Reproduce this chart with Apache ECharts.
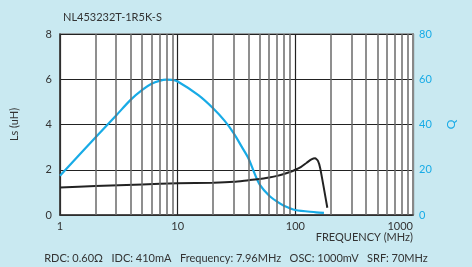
<!DOCTYPE html>
<html>
<head>
<meta charset="utf-8">
<script src="https://cdn.jsdelivr.net/npm/echarts@6/dist/echarts.min.js"></script>
<style>
  html, body { margin: 0; padding: 0; background: #c9e9f1; }
  #chart { width: 472px; height: 267px; }
</style>
</head>
<body>
<div id="chart"></div>
<script>
// inductance Ls (uH) vs frequency (MHz)
var lsFreq = [1, 2, 5, 10, 20, 30, 40, 50, 60, 70, 80, 90, 100, 112, 125, 137, 147, 156, 163, 187];
var lsVals = [1.22, 1.28, 1.35, 1.40, 1.43, 1.47, 1.54, 1.59, 1.66, 1.73, 1.81, 1.90, 2.00, 2.13, 2.31, 2.46, 2.51, 2.38, 2.05, 0.32];

// Q vs frequency (MHz)
var qFreq = [1, 2, 3, 4, 5, 6, 7, 8, 9, 10, 15, 20, 25, 30, 35, 40, 45, 50, 60, 70, 80, 100, 150, 175];
var qVals = [17.4, 34.3, 44.0, 51.0, 55.3, 58.0, 59.3, 59.8, 59.7, 59.0, 53.0, 47.2, 41.7, 36.1, 30.2, 25.0, 18.4, 13.3, 8.5, 5.9, 4.1, 2.2, 1.2, 0.9];

// minor log gridlines between decades
var minorTicks = [2, 3, 4, 5, 6, 7, 8, 9, 20, 30, 40, 50, 60, 70, 80, 90, 200, 300, 400, 500, 600, 700, 800, 900];

var footText = 'RDC: 0.60\u03A9   IDC: 410mA   Frequency: 7.96MHz   OSC: 1000mV   SRF: 70MHz';

function pairs(xs, ys) {
    var d = [];
    for (var i = 0; i < xs.length; i++) d.push([xs[i], ys[i]]);
    return d;
}

var font = 'Lato';
var blue = '#18abe6';

var chart = echarts.init(document.getElementById('chart'));
chart.setOption({
    backgroundColor: '#c9e9f1',
    animation: false,
    textStyle: { fontFamily: font },
    title: {
        text: 'NL453232T-1R5K-S',
        left: 58, top: 7,
        textStyle: { fontFamily: font, fontSize: 11, fontWeight: 'normal', color: '#333' }
    },
    grid: {
        left: 60, right: 59, top: 34, bottom: 52,
        show: true, backgroundColor: '#fff', borderColor: '#888', borderWidth: 1.5
    },
    xAxis: {
        type: 'log', logBase: 10, min: 1, max: 1000,
        name: 'FREQUENCY (MHz)', nameLocation: 'end', nameGap: 0,
        nameTextStyle: { fontFamily: font, fontSize: 11, color: '#333', align: 'right', verticalAlign: 'top', padding: [17, 0, 0, 0] },
        axisLine: { lineStyle: { color: '#333', width: 1.5 } },
        axisTick: { show: false },
        axisLabel: {
            color: '#333', fontSize: 11, fontFamily: font, margin: 6, alignMaxLabel: 'right',
            formatter: function (v) { return String(Math.round(v)); }
        },
        splitLine: { show: true, lineStyle: { color: '#222', width: 1.2 } }
    },
    yAxis: [{
        type: 'value', min: 0, max: 8, interval: 2,
        name: 'Ls (uH)', nameLocation: 'middle', nameRotate: 90, nameGap: 40,
        nameTextStyle: { fontFamily: font, fontSize: 11, color: '#333' },
        axisLine: { show: true, lineStyle: { color: '#333', width: 1.5 } },
        axisTick: { show: false },
        axisLabel: { color: '#333', fontSize: 11, fontFamily: font, margin: 8 },
        splitLine: { show: true, lineStyle: { color: '#222', width: 1.2 } }
    }, {
        type: 'value', min: 0, max: 80, interval: 20, position: 'right',
        name: 'Q', nameLocation: 'middle', nameRotate: 90, nameGap: 32,
        nameTextStyle: { fontFamily: font, fontSize: 12, color: blue },
        axisLine: { show: true, lineStyle: { color: '#888', width: 2 } },
        axisTick: { show: false },
        axisLabel: { color: blue, fontSize: 11, fontFamily: font, margin: 6 },
        splitLine: { show: false }
    }],
    graphic: [{
        type: 'text', left: 'center', top: 253,
        style: { text: footText, fontFamily: font, fontSize: 11, fill: '#333' }
    }],
    series: [{
        type: 'line', yAxisIndex: 0, data: [], silent: true,
        markLine: {
            silent: true, symbol: 'none', label: { show: false },
            lineStyle: { color: '#6a6a6a', width: 1.5, type: 'solid' },
            data: minorTicks.map(function (v) { return { xAxis: v }; })
        }
    }, {
        name: 'Q', type: 'line', yAxisIndex: 1, smooth: 0.3, showSymbol: false,
        data: pairs(qFreq, qVals),
        lineStyle: { color: blue, width: 2.2 }
    }, {
        name: 'Ls', type: 'line', yAxisIndex: 0, smooth: 0.2, showSymbol: false,
        data: pairs(lsFreq, lsVals),
        lineStyle: { color: '#222', width: 2 }
    }]
});
</script>
</body>
</html>
